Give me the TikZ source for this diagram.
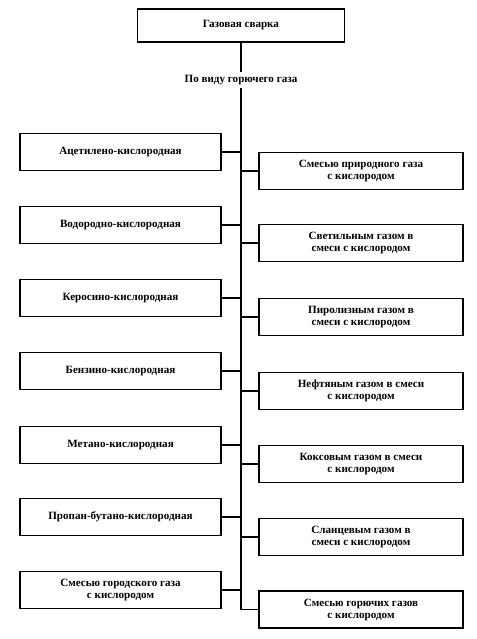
\documentclass[tikz,border=0pt]{standalone}
\usepackage{fontspec}
\setmainfont{Liberation Serif}
\usetikzlibrary{positioning}

\begin{document}
\begin{tikzpicture}[x=1pt,y=-1pt,line width=1.7pt,
    box/.style={draw,line width=1.9pt,minimum height=37pt,align=center,
      inner sep=1pt,font=\fontsize{11.1}{12}\selectfont\bfseries},
    lbox/.style={box,minimum width=201pt},
    rbox/.style={box,minimum width=204pt}]
  \useasboundingbox (0,0) rectangle (476,639);
  \node[box,minimum width=207pt,minimum height=33pt] (weld) at (241,25.5) {Газовая сварка};
  \node[font=\fontsize{11.1}{12}\selectfont\bfseries,inner sep=2pt] (kind) at (241,80) {По виду горючего газа};
  % left column
  \node[lbox] (l1) at (120.5,152) {Ацетилено-кислородная};
  \node[lbox] (l2) at (120.5,225) {Водородно-кислородная};
  \node[lbox] (l3) at (120.5,298) {Керосино-кислородная};
  \node[lbox] (l4) at (120.5,371) {Бензино-кислородная};
  \node[lbox] (l5) at (120.5,445) {Метано-кислородная};
  \node[lbox] (l6) at (120.5,517) {Пропан-бутано-кислородная};
  \node[lbox] (l7) at (120.5,590) {Смесью городского газа\\с кислородом};
  % right column
  \node[rbox] (r1) at (361,171) {Смесью природного газа\\с кислородом};
  \node[rbox] (r2) at (361,243) {Светильным газом в\\смеси с кислородом};
  \node[rbox] (r3) at (361,317) {Пиролизным газом в\\смеси с кислородом};
  \node[rbox] (r4) at (361,391) {Нефтяным газом в смеси\\с кислородом};
  \node[rbox] (r5) at (361,464) {Коксовым газом в смеси\\с кислородом};
  \node[rbox] (r6) at (361,537) {Сланцевым газом в\\смеси с кислородом};
  \node[rbox] (r7) at (361,609.5) {Смесью горючих газов\\с кислородом};
  % spine
  \draw (weld.south) -- (kind.north);
  \draw (kind.south) -- (kind.south |- r7.west) -- (r7.west);
  \foreach \n in {l1,l2,l3,l4,l5,l6,l7}
    \draw (\n.east) -- (\n.east -| kind.south);
  \foreach \n in {r1,r2,r3,r4,r5,r6}
    \draw (\n.west) -- (\n.west -| kind.south);
\end{tikzpicture}
\end{document}
